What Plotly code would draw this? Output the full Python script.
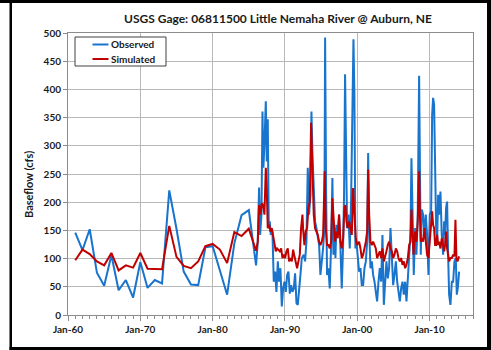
import pandas as pd
import plotly.graph_objects as go

# Observed baseflow (cfs): annual values through 1986, then sub-annual record
obs_year = [
    1961, 1962, 1963, 1964, 1965, 1966, 1967, 1968, 1969, 1970, 1971, 1972, 1973,
    1974, 1975, 1976, 1977, 1978, 1979, 1980, 1981, 1982, 1983, 1984, 1985, 1986,
    1986.24, 1986.42, 1986.56, 1986.75, 1986.89, 1987.02, 1987.16, 1987.35, 1987.48,
    1987.62, 1987.76, 1987.90, 1988.04, 1988.27, 1988.45, 1988.64, 1988.82, 1989.01,
    1989.19, 1989.37, 1989.56, 1989.74, 1989.93, 1990.11, 1990.30, 1990.48, 1990.67,
    1990.85, 1991.03, 1991.22, 1991.40, 1991.59, 1991.77, 1991.96, 1992.14, 1992.33,
    1992.60, 1992.78, 1992.97, 1993.15, 1993.33, 1993.52, 1993.66, 1993.80, 1993.98,
    1994.16, 1994.35, 1994.53, 1994.72, 1994.90, 1995.09, 1995.27, 1995.45, 1995.55,
    1995.69, 1995.82, 1996.01, 1996.19, 1996.38, 1996.56, 1996.70, 1996.84, 1996.98,
    1997.11, 1997.30, 1997.48, 1997.67, 1997.85, 1998.04, 1998.17, 1998.31, 1998.45,
    1998.59, 1998.77, 1998.96, 1999.14, 1999.33, 1999.47, 1999.60, 1999.74, 1999.88,
    2000.07, 2000.25, 2000.44, 2000.62, 2000.81, 2000.99, 2001.18, 2001.36, 2001.50,
    2001.64, 2001.82, 2002.01, 2002.19, 2002.38, 2002.56, 2002.74, 2002.93, 2003.11,
    2003.30, 2003.48, 2003.67, 2003.85, 2004.03, 2004.22, 2004.40, 2004.59, 2004.77,
    2004.96, 2005.14, 2005.33, 2005.51, 2005.69, 2005.88, 2006.06, 2006.25, 2006.43,
    2006.62, 2006.80, 2006.99, 2007.17, 2007.35, 2007.49, 2007.63, 2007.81, 2008.00,
    2008.18, 2008.36, 2008.55, 2008.66, 2008.78, 2008.92, 2009.10, 2009.29, 2009.47,
    2009.65, 2009.84, 2010.02, 2010.21, 2010.35, 2010.48, 2010.62, 2010.76, 2010.90,
    2011.04, 2011.18, 2011.31, 2011.50, 2011.68, 2011.87, 2012.01, 2012.14, 2012.28,
    2012.42, 2012.56, 2012.70, 2012.88, 2013.07, 2013.25, 2013.43, 2013.62, 2013.76,
    2013.89, 2014.08,
]
obs_cfs = [
    146, 115, 152, 75, 52, 106, 44, 62, 31, 94, 48, 62, 56,
    221, 153, 77, 54, 53, 120, 122, 79, 36, 127, 177, 186, 88,
    130, 226, 142, 178, 361, 261, 302, 379, 272,
    347, 154, 166, 142, 148, 59, 77, 41, 95,
    59, 83, 15, 47, 59, 41, 71, 77, 38,
    53, 41, 47, 74, 21, 18, 41, 71, 101,
    107, 95, 130, 261, 178, 213, 361, 284, 219,
    166, 154, 142, 124, 71, 95, 118, 154, 492,
    213, 71, 83, 47, 124, 243, 107, 154, 101,
    160, 142, 178, 118, 47, 124, 213, 427, 225,
    154, 178, 118, 201, 361, 489, 391, 118, 130,
    101, 77, 83, 53, 53, 83, 95, 130, 287,
    154, 83, 95, 71, 59, 41, 24, 59, 83,
    59, 142, 18, 59, 95, 65, 83, 154, 101,
    53, 71, 95, 59, 41, 24, 47, 59, 36,
    59, 24, 59, 95, 142, 278, 184, 71, 154,
    107, 178, 424, 261, 107, 187, 178, 142, 178,
    142, 71, 178, 184, 355, 385, 373, 249, 154,
    130, 213, 178, 219, 142, 107, 166, 142, 190,
    201, 107, 36, 18, 59, 59, 95, 101, 36,
    47, 77,
]

# Simulated baseflow (cfs)
sim_year = [
    1961, 1962, 1963, 1964, 1965, 1966, 1967, 1968, 1969, 1970, 1971, 1972, 1973,
    1974, 1975, 1976, 1977, 1978, 1979, 1980, 1981, 1982, 1983, 1984, 1985, 1986,
    1986.24, 1986.42, 1986.61, 1986.79, 1986.98, 1987.16, 1987.35, 1987.48, 1987.62,
    1987.81, 1987.99, 1988.18, 1988.36, 1988.54, 1988.73, 1988.91, 1989.10, 1989.28,
    1989.47, 1989.65, 1989.84, 1990.02, 1990.20, 1990.39, 1990.57, 1990.76, 1990.94,
    1991.13, 1991.31, 1991.50, 1991.68, 1991.86, 1992.05, 1992.23, 1992.42,
    1992.50, 1992.69, 1992.87, 1993.06, 1993.24, 1993.43, 1993.61, 1993.80, 1993.98,
    1994.16, 1994.35, 1994.53, 1994.72, 1994.90, 1995.09, 1995.27, 1995.50, 1995.64,
    1995.82, 1996.01, 1996.19, 1996.38, 1996.56, 1996.75, 1996.93, 1997.11, 1997.30,
    1997.48, 1997.67, 1997.85, 1998.04, 1998.22, 1998.36, 1998.50, 1998.68, 1998.87,
    1999.05, 1999.24, 1999.42, 1999.60, 1999.79, 1999.97,
    2000.25, 2000.44, 2000.62, 2000.81, 2000.99, 2001.18, 2001.36, 2001.50, 2001.64,
    2001.82, 2002.01, 2002.19, 2002.38, 2002.56, 2002.74, 2002.93, 2003.11, 2003.30,
    2003.48, 2003.67, 2003.85, 2004.03, 2004.22, 2004.40, 2004.59, 2004.77, 2004.96,
    2005.14, 2005.33, 2005.51, 2005.69, 2005.88, 2006.06, 2006.25, 2006.43, 2006.62,
    2006.80, 2006.99, 2007.17, 2007.35, 2007.49, 2007.63, 2007.77,
    2008.00, 2008.18, 2008.36, 2008.55, 2008.66, 2008.78, 2008.92, 2009.10, 2009.29,
    2009.47, 2009.65, 2009.84, 2010.02, 2010.21, 2010.35, 2010.48, 2010.62, 2010.76,
    2010.90, 2011.04, 2011.18, 2011.31, 2011.50, 2011.68, 2011.87, 2012.01, 2012.14,
    2012.28, 2012.42, 2012.56, 2012.70, 2012.88, 2013.07, 2013.25, 2013.43, 2013.57,
    2013.71, 2013.85, 2013.99, 2014.08,
]
sim_cfs = [
    97, 116, 108, 95, 88, 110, 79, 88, 84, 110, 82, 81, 81,
    158, 103, 87, 83, 95, 122, 126, 116, 92, 147, 140, 153, 114,
    130, 195, 178, 198, 195, 178, 261, 225, 154,
    160, 148, 154, 142, 130, 113, 118, 116, 113,
    118, 101, 107, 101, 113, 118, 95, 101, 95,
    116, 104, 95, 83, 95, 107, 154, 178,
    154, 124, 148, 154, 190, 201, 341, 243, 178,
    154, 148, 142, 130, 124, 130, 142, 255, 154,
    124, 124, 118, 130, 207, 154, 130, 148, 136,
    178, 130, 118, 136, 190, 195, 166, 154, 166,
    154, 142, 225, 178, 136, 124,
    130, 118, 101, 107, 118, 130, 148, 258, 178,
    130, 124, 130, 124, 118, 101, 107, 113, 101,
    118, 95, 107, 113, 124, 130, 118, 113, 101,
    107, 118, 113, 101, 95, 101, 89, 95, 83,
    89, 101, 124, 130, 187, 142, 107,
    148, 130, 166, 255, 178, 130, 136, 130, 154,
    130, 107, 101, 130, 154, 184, 160, 154, 124,
    124, 142, 124, 130, 118, 136, 124, 113, 124,
    148, 118, 101, 95, 101, 101, 107, 104, 169,
    101, 95, 101, 104,
]

series_names = ["Observed", "Simulated"]
decade_ticks = ["1960-01-01", "1970-01-01", "1980-01-01", "1990-01-01", "2000-01-01", "2010-01-01"]
decade_labels = ["Jan-60", "Jan-70", "Jan-80", "Jan-90", "Jan-00", "Jan-10"]
y_ticks = [0, 50, 100, 150, 200, 250, 300, 350, 400, 450, 500]


def to_dates(years):
    out = []
    for y in years:
        yr = int(y)
        out.append(pd.Timestamp(year=yr, month=1, day=1) + pd.Timedelta(days=(y - yr) * 365.25))
    return out


W, H = 491, 350
L, R, T, B = 68, 18, 33, 35
PW, PH = W - L - R, H - T - B


def px(x):
    return (x - L) / PW


def py(y):
    return (H - B - y) / PH


FONT = "Lato"
BLUE = "#1874CD"
RED = "#C00000"
GRID = "#B8B8B8"
INK = "#1a1a1a"

fig = go.Figure()
fig.add_trace(go.Scatter(x=to_dates(obs_year), y=obs_cfs, mode="lines", name=series_names[0],
                         line=dict(color=BLUE, width=2)))
fig.add_trace(go.Scatter(x=to_dates(sim_year), y=sim_cfs, mode="lines", name=series_names[1],
                         line=dict(color=RED, width=2)))

fig.update_xaxes(
    type="date", range=["1960-01-01", "2016-01-01"],
    tickvals=decade_ticks, ticktext=decade_labels,
    showgrid=True, gridcolor=GRID, gridwidth=1,
    showline=True, linecolor="#8C8C8C", linewidth=1, mirror=True,
    ticks="outside", ticklen=5, tickcolor="#8C8C8C",
    minor=dict(dtick="M12", ticks="outside", ticklen=3, tickcolor="#8C8C8C", showgrid=False),
    tickfont=dict(family=FONT, size=10, color=INK, weight="bold"),
    zeroline=False,
)
fig.update_yaxes(
    range=[0, 500], tickvals=y_ticks,
    showgrid=True, gridcolor=GRID, gridwidth=1,
    showline=True, linecolor="#8C8C8C", linewidth=1, mirror=True,
    ticks="outside", ticklen=4, tickcolor="#8C8C8C",
    tickfont=dict(family=FONT, size=10, color=INK, weight="bold"),
    zeroline=False,
)

# Black chart frame
frame = [
    (0, 0, W, 3),
    (9.5, 0, 12, H),
    (487, 0, W, H),
    (9.5, 347, W, H),
]
shapes = []
for x0, y0, x1, y1 in frame:
    shapes.append(dict(type="rect", xref="paper", yref="paper",
                       x0=px(x0), x1=px(x1), y0=py(y1), y1=py(y0),
                       fillcolor="black", line=dict(width=0), layer="above"))

# Legend box with line samples
shapes.append(dict(type="rect", xref="paper", yref="paper",
                   x0=px(75), x1=px(166), y0=py(66), y1=py(37),
                   fillcolor="white", line=dict(color="#404040", width=1), layer="above"))
annotations = []
for name, color, yrow in [(series_names[0], BLUE, 44.5), (series_names[1], RED, 59)]:
    shapes.append(dict(type="line", xref="paper", yref="paper",
                       x0=px(92.5), x1=px(108.5), y0=py(yrow), y1=py(yrow),
                       line=dict(color=color, width=2), layer="above"))
    annotations.append(dict(text=name, xref="paper", yref="paper", x=px(109), y=py(yrow),
                            xanchor="left", yanchor="middle", showarrow=False,
                            font=dict(family=FONT, size=10, color=INK, weight="bold")))

annotations += [
    dict(text="USGS Gage: 06811500 Little Nemaha River @ Auburn, NE",
         xref="paper", yref="paper", x=px(278), y=py(18), xanchor="center", yanchor="middle",
         showarrow=False, font=dict(family=FONT, size=12, color=INK, weight="bold")),
    dict(text="Baseflow (cfs)", xref="paper", yref="paper", x=px(28), y=py(185),
         xanchor="center", yanchor="middle", textangle=-90, showarrow=False,
         font=dict(family=FONT, size=11, color=INK, weight="bold")),
]

fig.update_layout(
    width=W, height=H,
    margin=dict(l=L, r=R, t=T, b=B),
    paper_bgcolor="white", plot_bgcolor="white",
    font=dict(family=FONT, color=INK),
    showlegend=False,
    shapes=shapes,
    annotations=annotations,
)

fig.write_html("out.html")
